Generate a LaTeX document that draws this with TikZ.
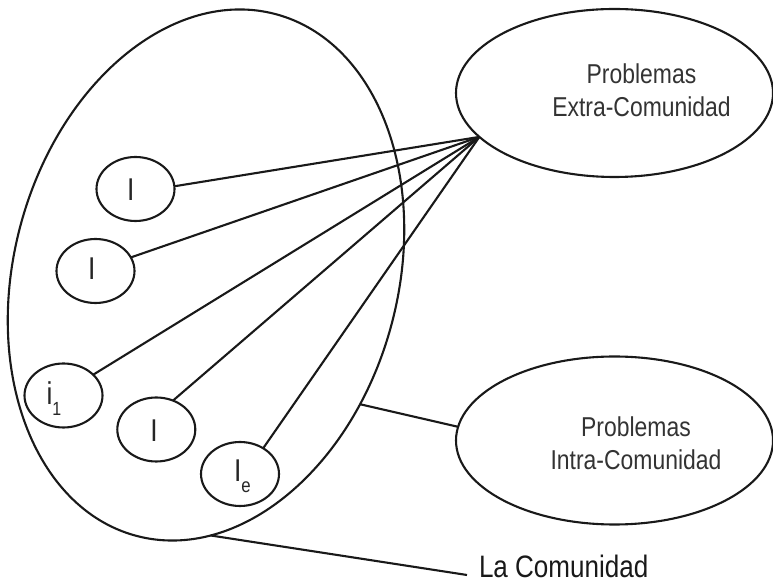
\documentclass[tikz,border=0pt]{standalone}
\usepackage{fontspec}
\setmainfont{Liberation Sans}[FakeStretch=0.84]
\usetikzlibrary{shapes.geometric}
\begin{document}
\begin{tikzpicture}[x=1pt,y=1pt,
  every node/.style={inner sep=0pt, outer sep=0pt},
  bubble/.style={draw=black!90, ellipse, line width=2.1pt, minimum width=78pt, minimum height=64pt},
  prob/.style={draw=black!90, ellipse, line width=2.1pt, minimum width=317pt, minimum height=168pt},
  conn/.style={line width=2.1pt, draw=black!90},
  lab/.style={font=\fontsize{31.5}{32}\selectfont, text=black!85},
  ptext/.style={font=\fontsize{27.3}{33}\selectfont, align=center, text=black!80},
  ctext/.style={font=\fontsize{31}{32}\selectfont, text=black!90}]
\useasboundingbox (0,0) rectangle (773,583);

% la comunidad
\node[draw=black!90, ellipse, line width=2.1pt, minimum width=384pt, minimum height=540pt, rotate=-15] (com) at (206,308) {};

% individuos
\node[bubble] (I1) at (135.5,394) {};
\node[bubble] (I2) at (95.5,312) {};
\node[bubble] (i1) at (63.5,187.5) {};
\node[bubble] (I3) at (156.3,153.5) {};
\node[bubble] (Ie) at (240,109) {};

\node[lab, anchor=base] (tI1) at (130.7,382.3) {I};
\node[lab, anchor=base] (tI2) at (91.7,303) {I};
\node[lab, anchor=base west] (ti1) at (46.5,178) {i\raisebox{-11pt}{\fontsize{19}{20}\selectfont 1}};
\node[lab, anchor=base] (tI3) at (154,141.3) {I};
\node[lab, anchor=base west] (tIe) at (234,101) {I\raisebox{-11pt}{\fontsize{20}{21}\selectfont e}};

% problemas
\node[prob] (ext) at (614.5,490) {};
\node[prob] (intra) at (614.5,142.5) {};
\node[ptext] (text) at (641.5,492.5) {Problemas\\Extra-Comunidad};
\node[ptext] (tintra) at (636,140) {Problemas\\Intra-Comunidad};

% label
\node[ctext, anchor=base west] (lc) at (479,5) {La Comunidad};
\coordinate (lcend) at (467,8);

% connectors
\draw[conn] (I1.4) -- (ext.198.6);
\draw[conn] (I2.21) -- (ext.198.6);
\draw[conn] (i1.35.5) -- (ext.198.6);
\draw[conn] (I3.60.6) -- (ext.198.6);
\draw[conn] (Ie.48.9) -- (ext.198.6);
\draw[conn] (com.-25) -- (intra.175.8);
\draw[conn] (com.-74.8) -- (lcend);
\end{tikzpicture}
\end{document}
